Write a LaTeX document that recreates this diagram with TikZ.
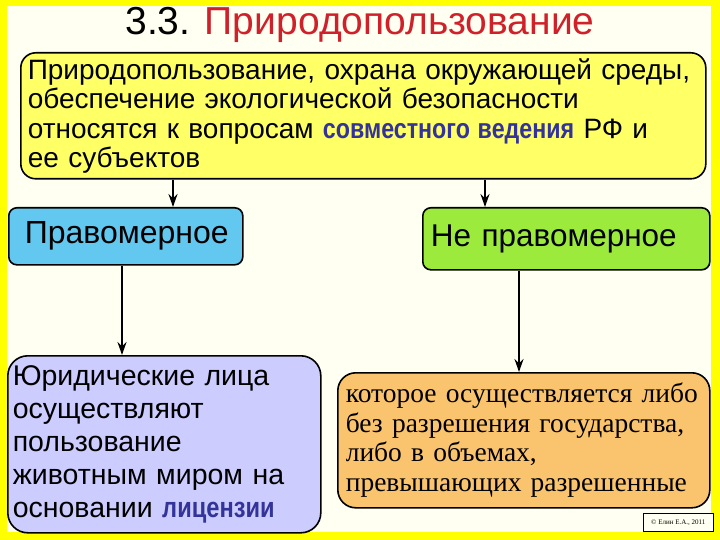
\documentclass[tikz,border=0pt]{standalone}
\usepackage{fontspec}
\setmainfont{Liberation Sans}
\newfontfamily\serifru{Liberation Serif}
\usetikzlibrary{arrows.meta}

\definecolor{frameyellow}{HTML}{FFFF00}
\definecolor{paper}{HTML}{FFFFF2}
\definecolor{titlered}{HTML}{D0202A}
\definecolor{topyellow}{HTML}{FFFF66}
\definecolor{legalblue}{HTML}{62C8F0}
\definecolor{illegalgreen}{HTML}{9CEB3C}
\definecolor{lavender}{HTML}{CCCCFF}
\definecolor{orangebox}{HTML}{FAC46E}
\definecolor{boldblue}{HTML}{333399}

% narrow bold blue words
\newcommand{\keyword}[1]{\scalebox{0.83}[1]{\textbf{\textcolor{boldblue}{#1}}}}

\tikzset{
  box/.style={draw=black, line width=1.6pt, anchor=north west, align=left, inner ysep=0pt},
  arr/.style={line width=2.3pt, -{Stealth[length=13pt,width=9pt]}},
}

\begin{document}
\begin{tikzpicture}[x=1pt,y=-1pt]

  % Frame and title
  \fill[frameyellow] (0,0) rectangle (720,540);
  \fill[paper] (7,6) rectangle (711,532);
  \node (title) at (360,25) {\fontsize{39}{44}\selectfont 3.3. \textcolor{titlered}{Природопользование}};

  % Top box
  \node[box, fill=topyellow, rounded corners=15pt, minimum width=685pt, minimum height=126pt,
        inner xsep=7pt, text width=671pt, font=\fontsize{28}{29.5}\selectfont] (top) at (20,52)
    {Природопользование, охрана окружающей среды,\\
     обеспечение экологической безопасности\\
     относятся к вопросам \keyword{совместного ведения} РФ и\\
     ее субъектов};

  % Two kinds
  \node[box, fill=legalblue, rounded corners=8pt, minimum width=234pt, minimum height=57pt,
        inner xsep=16pt, text width=202pt, font=\fontsize{32}{34}\selectfont] (legal) at (8,207)
    {\raisebox{-4pt}{Правомерное}};
  \node[box, fill=illegalgreen, rounded corners=8pt, minimum width=287pt, minimum height=62pt,
        inner xsep=8pt, text width=271pt, font=\fontsize{31.5}{34}\selectfont] (illegal) at (422,207)
    {Не правомерное};

  % Bottom boxes
  \node[box, fill=lavender, rounded corners=20pt, minimum width=313pt, minimum height=177pt,
        inner xsep=5pt, text width=303pt, font=\fontsize{28.5}{33}\selectfont] (legaltext) at (7,355)
    {Юридические лица\\
     осуществляют\\
     пользование\\
     животным миром на\\
     основании \keyword{лицензии}};
  \node[box, fill=orangebox, rounded corners=18pt, minimum width=372pt, minimum height=135pt,
        inner xsep=8pt, text width=356pt, font=\serifru\fontsize{27.5}{29.5}\selectfont] (illegaltext) at (337,372)
    {которое осуществляется либо\\
     без разрешения государства,\\
     либо в объемах,\\
     превышающих разрешенные};

  % Copyright
  \node[draw=black, line width=0.6pt, fill=paper, anchor=north west, minimum width=70pt,
        minimum height=18pt, inner sep=1pt, font=\serifru\fontsize{7}{8}\selectfont] (copy) at (643,513)
    {© Елин Е.А., 2011};

  % Arrows
  \coordinate (c1) at (173,0);
  \coordinate (c2) at (485,0);
  \coordinate (c3) at (122,0);
  \coordinate (c4) at (519,0);
  \draw[arr] (top.south -| c1) -- (legal.north -| c1);
  \draw[arr] (top.south -| c2) -- (illegal.north -| c2);
  \draw[arr] (legal.south -| c3) -- (legaltext.north -| c3);
  \draw[arr] (illegal.south -| c4) -- (illegaltext.north -| c4);

\end{tikzpicture}
\end{document}
